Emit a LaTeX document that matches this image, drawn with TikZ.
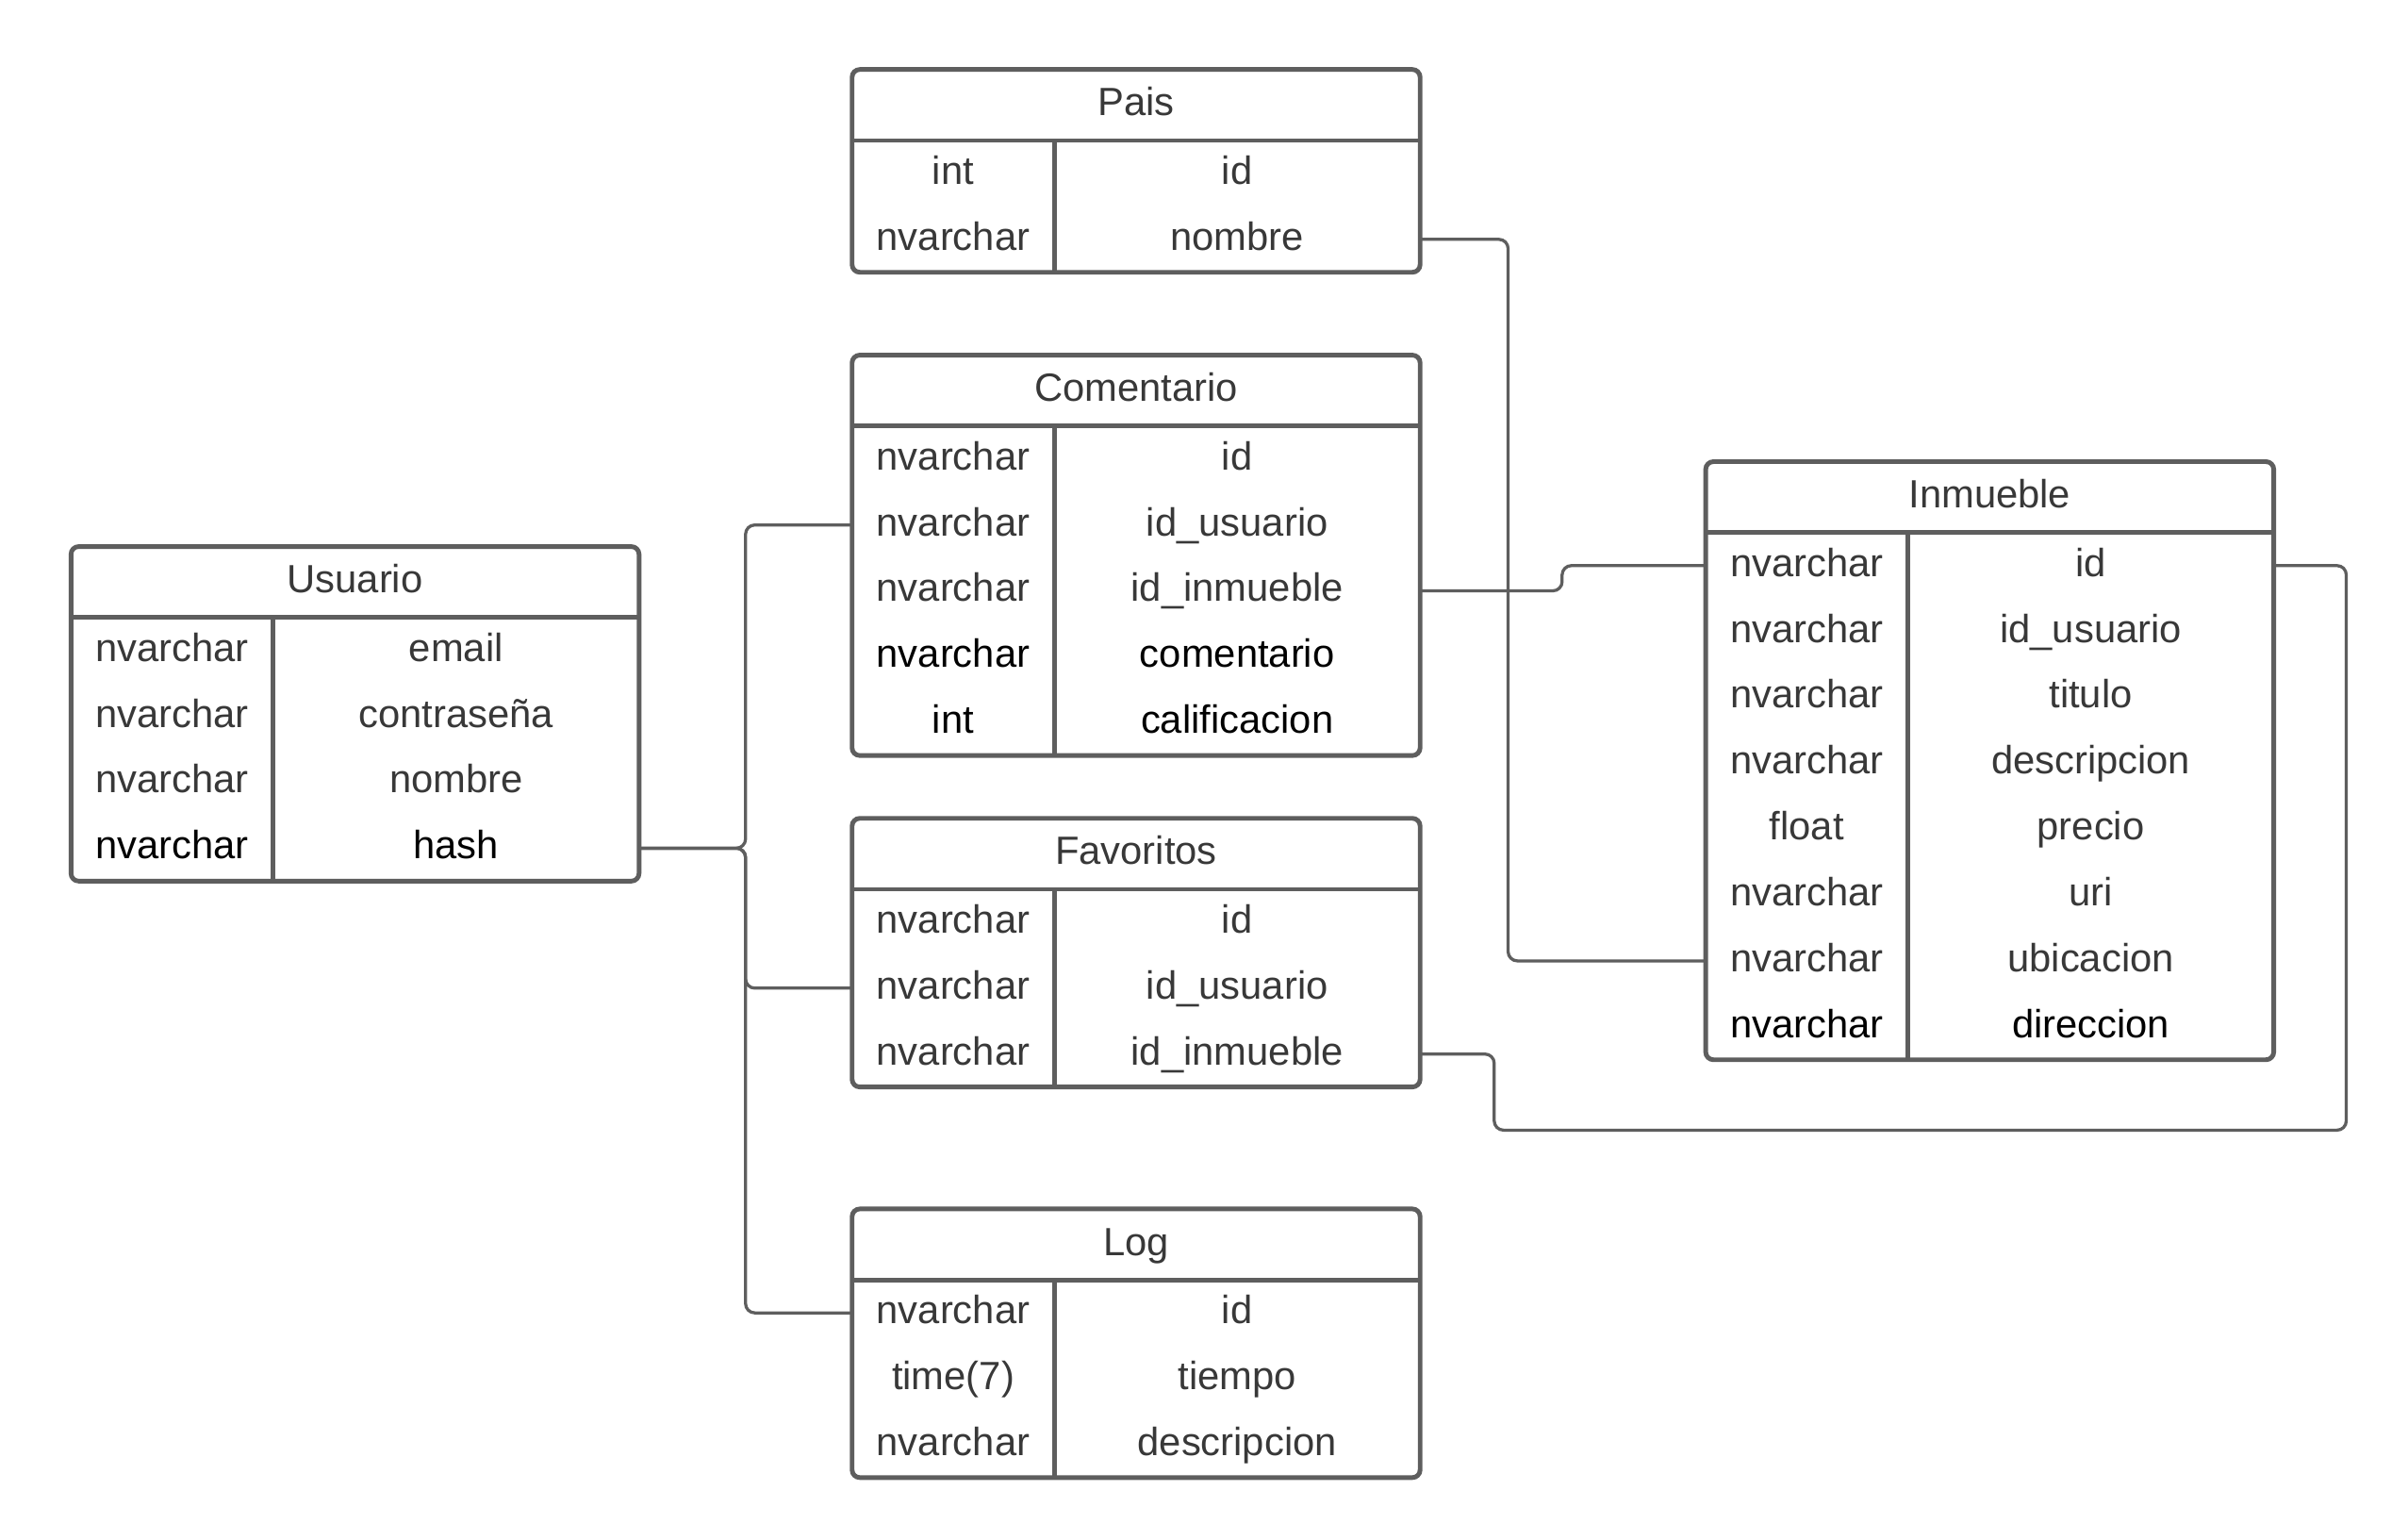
\documentclass[tikz,border=0pt]{standalone}
\usepackage{fontspec}
\setmainfont{Liberation Sans}
\definecolor{boxline}{HTML}{5E5E5E}
\definecolor{txt}{HTML}{383838}
\tikzset{
  tbox/.style={draw=boxline, line width=3pt, rounded corners=5pt},
  sepline/.style={draw=boxline, line width=3pt},
  cell/.style={anchor=base, inner sep=0pt, font=\fontsize{25.5}{30}\selectfont},
  conn/.style={draw=boxline, line width=2pt, rounded corners=6pt},
}
% name, x, y, number of rows, title, rows (type/field/colour)
\newcommand\ertable[6]{%
  \begin{scope}[shift={(#2,#3)}]
    \pgfmathsetmacro\tbot{46+#4*42.67}
    \draw[tbox] (0,0) rectangle (368,\tbot);
    \draw[sepline] (0,46) -- (368,46);
    \draw[sepline] (131,46) -- (131,\tbot);
    \node[cell, text=txt] (#1-title) at (184,30) {#5};
    \foreach \ty/\fd/\cl [count=\i] in {#6} {
      \pgfmathsetmacro\rc{46+(\i-0.5)*42.67}
      \node[cell, text=\cl] (#1-\i-t) at (65.5,\rc+7) {\ty};
      \node[cell, text=\cl] (#1-\i-f) at (249.5,\rc+7) {\fd};
      \coordinate (#1-\i-W) at (0,\rc);
      \coordinate (#1-\i-E) at (368,\rc);
    }
  \end{scope}%
}
\begin{document}
\begin{tikzpicture}[x=1pt, y=-1pt]
  \useasboundingbox (0,0) rectangle (1560,997);
  \fill[white] (0,0) rectangle (1560,997);

  \ertable{usuario}{46}{354}{4}{Usuario}{nvarchar/email/txt, nvarchar/contraseña/txt, nvarchar/nombre/txt, nvarchar/hash/black}
  \ertable{pais}{552}{45}{2}{Pais}{int/id/txt, nvarchar/nombre/txt}
  \ertable{comentario}{552}{230}{5}{Comentario}{nvarchar/id/txt, nvarchar/id\_usuario/txt, nvarchar/id\_inmueble/txt, nvarchar/comentario/black, int/calificacion/black}
  \ertable{favoritos}{552}{530}{3}{Favoritos}{nvarchar/id/txt, nvarchar/id\_usuario/txt, nvarchar/id\_inmueble/txt}
  \ertable{log}{552}{783}{3}{Log}{nvarchar/id/txt, time(7)/tiempo/txt, nvarchar/descripcion/txt}
  \ertable{inmueble}{1105}{299}{8}{Inmueble}{nvarchar/id/txt, nvarchar/id\_usuario/txt, nvarchar/titulo/txt, nvarchar/descripcion/txt, float/precio/txt, nvarchar/uri/txt, nvarchar/ubicacion/txt, nvarchar/direccion/black}

  % connectors
  \draw[conn] (pais-2-E) -- ++(57,0) |- (inmueble-7-W);
  \draw[conn] (comentario-3-E) -- ++(92,0) |- (inmueble-1-W);
  \draw[conn] (usuario-4-E) -- ++(69,0) |- (comentario-2-W);
  \draw[conn] (usuario-4-E) -- ++(69,0) |- (favoritos-2-W);
  \draw[conn] (usuario-4-E) -- ++(69,0) |- (log-1-W);
  \draw[conn] (favoritos-3-E) -- ++(48,0) -- ++(0,49.3) -| ([xshift=47pt]inmueble-1-E) -- (inmueble-1-E);
\end{tikzpicture}
\end{document}
